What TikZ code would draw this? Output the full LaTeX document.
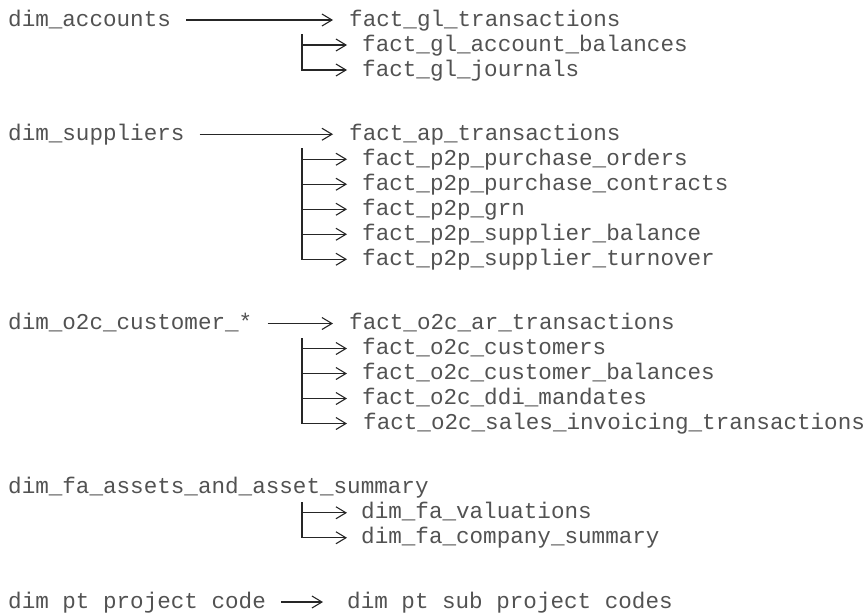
\documentclass[tikz,border=0pt]{standalone}
\usepackage{fontspec}
\newfontfamily\codefont{Liberation Mono}
\usetikzlibrary{arrows.meta}
\begin{document}
\begin{tikzpicture}[x=1pt,y=-1pt,
  lbl/.style={anchor=west, inner sep=0pt, text height=12pt, text depth=0pt,
    font=\codefont\fontsize{22.6}{24}\selectfont, text=black!68},
  wire/.style={draw=black!85, line width=1.1pt},
  arr/.style={wire, -{Straight Barb[length=10pt,width=12pt]}}]
\useasboundingbox (0,0) rectangle (867,613);
% group 1
\node[lbl] (acc) at (8,20) {dim\_accounts};
\node[lbl] (glt) at (349,20) {fact\_gl\_transactions};
\node[lbl] (glb) at (362,45) {fact\_gl\_account\_balances};
\node[lbl] (glj) at (362,70) {fact\_gl\_journals};
% group 2
\node[lbl] (sup) at (8,134.25) {dim\_suppliers};
\node[lbl] (apt) at (349,134.25) {fact\_ap\_transactions};
\node[lbl] (ppo) at (362,159.25) {fact\_p2p\_purchase\_orders};
\node[lbl] (ppc) at (362,184.25) {fact\_p2p\_purchase\_contracts};
\node[lbl] (grn) at (362,209.25) {fact\_p2p\_grn};
\node[lbl] (psb) at (362,234.25) {fact\_p2p\_supplier\_balance};
\node[lbl] (pst) at (362,259.25) {fact\_p2p\_supplier\_turnover};
% group 3
\node[lbl] (cus) at (8,323.5) {dim\_o2c\_customer\_*};
\node[lbl] (art) at (349,323.5) {fact\_o2c\_ar\_transactions};
\node[lbl] (ocu) at (362,348.5) {fact\_o2c\_customers};
\node[lbl] (ocb) at (362,373.5) {fact\_o2c\_customer\_balances};
\node[lbl] (ddi) at (362,398.5) {fact\_o2c\_ddi\_mandates};
\node[lbl] (sit) at (363,423.5) {fact\_o2c\_sales\_invoicing\_transactions};
% group 4
\node[lbl] (fas) at (8,487.75) {dim\_fa\_assets\_and\_asset\_summary};
\node[lbl] (fav) at (361,512.75) {dim\_fa\_valuations};
\node[lbl] (fcs) at (361,537.75) {dim\_fa\_company\_summary};
% group 5
\node[lbl] (ppj) at (8,602) {dim pt project code};
\node[lbl] (pts) at (347,602) {dim pt sub project codes};

% main arrows
\draw[arr] ([xshift=15pt]acc.east) -- ([xshift=-16pt]glt.west);
\draw[arr] ([xshift=15pt]sup.east) -- ([xshift=-16pt]apt.west);
\draw[arr] ([xshift=15pt]cus.east) -- ([xshift=-16pt]art.west);
\draw[arr] ([xshift=15pt]ppj.east) -- ([xshift=-24pt]pts.west);

% spines
\coordinate (sp1) at (302,34);
\coordinate (sp2) at (302,148);
\coordinate (sp3) at (302,338);
\coordinate (sp4) at (302,502);

\draw[arr] (sp1) |- ([xshift=-15pt]glj.west);
\draw[arr] (sp1 |- glb.west) -- ([xshift=-15pt]glb.west);

\draw[arr] (sp2) |- ([xshift=-15pt]pst.west);
\foreach \t in {ppo,ppc,grn,psb}
  \draw[arr] (sp2 |- \t.west) -- ([xshift=-15pt]\t.west);

\draw[arr] (sp3) |- ([xshift=-16pt]sit.west);
\foreach \t in {ocu,ocb,ddi}
  \draw[arr] (sp3 |- \t.west) -- ([xshift=-15pt]\t.west);

\draw[arr] (sp4) |- ([xshift=-14pt]fcs.west);
\draw[arr] (sp4 |- fav.west) -- ([xshift=-14pt]fav.west);
\end{tikzpicture}
\end{document}
